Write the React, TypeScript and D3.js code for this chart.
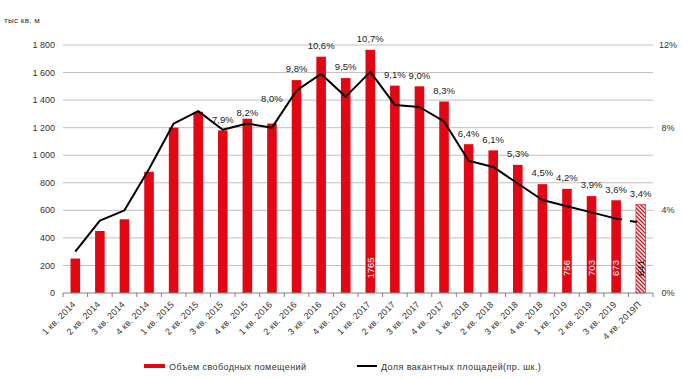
import React from "react";
import * as d3 from "d3";

const categories = [
  "1 кв. 2014", "2 кв. 2014", "3 кв. 2014", "4 кв. 2014",
  "1 кв. 2015", "2 кв. 2015", "3 кв. 2015", "4 кв. 2015",
  "1 кв. 2016", "2 кв. 2016", "3 кв. 2016", "4 кв. 2016",
  "1 кв. 2017", "2 кв. 2017", "3 кв. 2017", "4 кв. 2017",
  "1 кв. 2018", "2 кв. 2018", "3 кв. 2018", "4 кв. 2018",
  "1 кв. 2019", "2 кв. 2019", "3 кв. 2019", "4 кв. 2019П",
];
const vacantArea = [
  250, 450, 535, 880, 1200, 1315, 1180, 1265, 1230, 1545, 1715, 1560,
  1765, 1505, 1500, 1390, 1080, 1035, 930, 790, 756, 703, 673, 641,
];
const vacancyRate = [
  2.0, 3.5, 4.0, 6.0, 8.2, 8.8, 7.9, 8.2, 8.0, 9.8, 10.6, 9.5,
  10.7, 9.1, 9.0, 8.3, 6.4, 6.1, 5.3, 4.5, 4.2, 3.9, 3.6, 3.4,
];
const leftTicks = [0, 200, 400, 600, 800, 1000, 1200, 1400, 1600, 1800];
const rightTicks = [0, 4, 8, 12];
const rateLabelCategories = categories.slice(6);
const areaLabelCategories = ["1 кв. 2017", "1 кв. 2019", "2 кв. 2019", "3 кв. 2019", "4 кв. 2019П"];
const forecastCategory = "4 кв. 2019П";
const unitLabel = "тыс кв. м";
const legendBars = "Объем свободных помещений";
const legendLine = "Доля вакантных площадей(пр. шк.)";

// layout (styling, not data)
const RED = "#e30613";
const FONT = "'Liberation Sans', Arial, sans-serif";
const labelLift: Record<string, number> = { "1 кв. 2016": 14, "4 кв. 2015": -5 };

export default function App() {
  const W = 683, H = 379;
  const left = 63, right = 653, top = 45, bottom = 293;

  const x = d3.scaleBand<string>().domain(categories).range([left, right])
    .paddingInner(0.61).paddingOuter(0.305);
  const yL = d3.scaleLinear().domain([0, 1800]).range([bottom, top]);
  const yR = d3.scaleLinear().domain([0, 12]).range([bottom, top]);
  const cx = (c: string) => (x(c) ?? 0) + x.bandwidth() / 2;

  const pts: [number, number][] = categories.map((c, i) => [cx(c), yR(vacancyRate[i])]);
  const line = d3.line();
  const solidPath = line(pts.slice(0, pts.length - 1)) ?? "";
  const lastPath = line(pts.slice(pts.length - 2)) ?? "";

  const step = x.step();
  const boundaries = d3.range(categories.length + 1).map((i) => left + i * step);

  return (
    <svg width={W} height={H} style={{ position: "absolute", left: 0, top: 0, fontFamily: FONT }}>
      <defs>
        <pattern id="hatch" width="4" height="4" patternUnits="userSpaceOnUse">
          <rect width="4" height="4" fill="#fff" />
          <path d="M-1,-1 L5,5 M-1,3 L1,5 M3,-1 L5,1" stroke={RED} strokeWidth="1.3" />
        </pattern>
      </defs>
      <rect width={W} height={H} fill="#fff" />
      <text x={4} y={23} fontSize={8} fill="#333" letterSpacing={0.3}>{unitLabel}</text>

      {leftTicks.filter((t) => t > 0).map((t) => (
        <line key={t} x1={left} x2={right} y1={yL(t)} y2={yL(t)} stroke="#c0c0c0" strokeWidth={1} />
      ))}
      {leftTicks.map((t) => (
        <text key={t} x={55} y={yL(t)} dy="0.35em" textAnchor="end" fontSize={9} fill="#333">
          {d3.format(",")(t).replace(/,/g, " ")}
        </text>
      ))}
      {rightTicks.map((t) => (
        <text key={t} x={668} y={yR(t)} dy="0.35em" textAnchor="middle" fontSize={9} fill="#333">
          {t}%
        </text>
      ))}

      {categories.map((c, i) => (
        <rect key={c} x={x(c)} y={yL(vacantArea[i])} width={x.bandwidth()}
          height={bottom - yL(vacantArea[i])}
          fill={c === forecastCategory ? "url(#hatch)" : RED}
          stroke={c === forecastCategory ? RED : "none"} strokeWidth={0.6} />
      ))}

      <line x1={left} x2={right} y1={bottom} y2={bottom} stroke="#808080" strokeWidth={1} />
      {boundaries.map((bx, i) => (
        <line key={i} x1={bx} x2={bx} y1={bottom} y2={bottom + 4} stroke="#808080" strokeWidth={1} />
      ))}
      {categories.map((c) => (
        <text key={c} transform={`translate(${cx(c) + 1},${bottom + 12}) rotate(-45)`}
          textAnchor="end" fontSize={9} fill="#333" letterSpacing={0.2}>{c}</text>
      ))}

      <path d={solidPath} fill="none" stroke="#000" strokeWidth={2} strokeLinejoin="round" />
      <path d={lastPath} fill="none" stroke="#000" strokeWidth={2} strokeDasharray="6 8 7 100" />

      {categories.map((c, i) => rateLabelCategories.includes(c) ? (
        <text key={c} x={cx(c)} y={yL(vacantArea[i]) - 11 - (labelLift[c] ?? 0)} dy="0.35em"
          textAnchor="middle" fontSize={9.5} fill="#222">
          {d3.format(".1f")(vacancyRate[i]).replace(".", ",")}%
        </text>
      ) : null)}

      {categories.map((c, i) => areaLabelCategories.includes(c) ? (
        <text key={c} transform={`translate(${cx(c)},268) rotate(-90)`} dy="0.35em"
          textAnchor="middle" fontSize={9.5} fill={c === forecastCategory ? "#000" : "#fff"}>
          {vacantArea[i]}
        </text>
      ) : null)}

      <rect x={144} y={364} width={21} height={4} fill={RED} />
      <text x={169} y={370} fontSize={9} fill="#333" letterSpacing={0.4}>{legendBars}</text>
      <line x1={357} x2={377} y1={366} y2={366} stroke="#000" strokeWidth={2} />
      <text x={381} y={370} fontSize={9} fill="#333" letterSpacing={0.4}>{legendLine}</text>
    </svg>
  );
}
